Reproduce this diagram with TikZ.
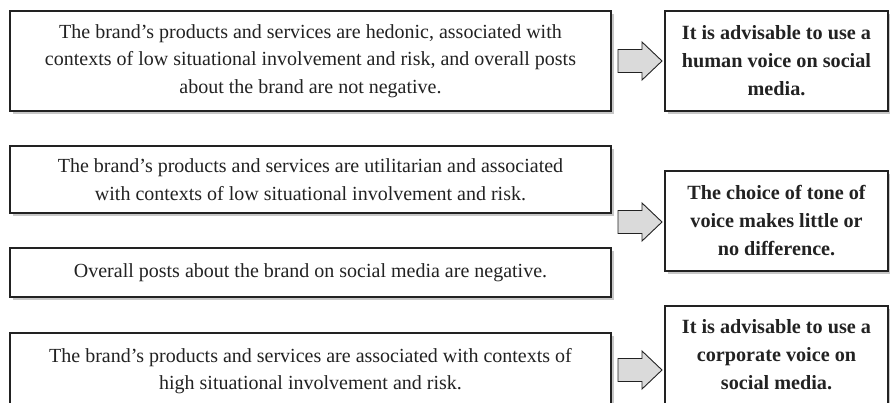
\documentclass[tikz,border=0pt]{standalone}
\usepackage{fontspec}
\setmainfont{Liberation Serif}
\usetikzlibrary{calc,shadows}
\definecolor{inkgray}{HTML}{222222}
\definecolor{arrowfill}{HTML}{DADADA}
\begin{document}
\begin{tikzpicture}[x=1pt,y=-1pt,
  every node/.style={inner sep=0pt, outer sep=0pt},
  condbox/.style={draw=inkgray, line width=1.1pt, fill=white, text=inkgray,
    minimum width=601pt, align=center,
    font=\fontsize{20}{27.5}\selectfont,
    drop shadow={shadow xshift=2.5pt, shadow yshift=-3pt, fill=black!40, opacity=0.55}},
  advicebox/.style={draw=inkgray, line width=1.1pt, fill=white, text=inkgray,
    minimum width=223pt, align=center,
    font=\fontsize{20.2}{28}\selectfont\bfseries,
    drop shadow={shadow xshift=2.5pt, shadow yshift=-3pt, fill=black!40, opacity=0.55}},
  pics/fatarrow/.style={code={
    \draw[draw=inkgray, line width=0.9pt, fill=arrowfill, line join=miter]
      (0,0) -- (-20,-19) -- (-20,-11.5) -- (-44,-11.5) -- (-44,11.5)
      -- (-20,11.5) -- (-20,19) -- cycle;}}
]
\useasboundingbox (0,0) rectangle (890,402);
\clip (0,0) rectangle (890,402);

% condition boxes on the left
\node[condbox, minimum height=100pt] (c1) at (310.5,61)
  {The brand’s products and services are hedonic, associated with\\
   contexts of low situational involvement and risk, and overall posts\\
   about the brand are not negative.};
\node[condbox, minimum height=67pt] (c2) at (310.5,179.5)
  {The brand’s products and services are utilitarian and associated\\
   with contexts of low situational involvement and risk.};
\node[condbox, minimum height=49pt] (c3) at (310.5,272.5)
  {Overall posts about the brand on social media are negative.};
\node[condbox, minimum height=76pt] (c4) at (310.5,371)
  {The brand’s products and services are associated with contexts of\\
   high situational involvement and risk.};

% recommendation boxes on the right
\node[advicebox, minimum height=100pt] (r1) at (776.5,61)
  {It is advisable to use a\\ human voice on social\\ media.};
\node[advicebox, minimum height=100pt] (r2) at (776.5,221)
  {The choice of tone of\\ voice makes little or\\ no difference.};
\node[advicebox, minimum height=98pt] (r3) at (776.5,355)
  {It is advisable to use a\\ corporate voice on\\ social media.};

% block arrows from conditions to recommendations
\coordinate (t1) at ($(r1.west)+(-3,0)$);
\coordinate (t2) at ($(r2.west)+(-3,1)$);
\coordinate (t3) at ($(r3.west |- c4.east)+(-3,-1)$);
\pic at (t1) {fatarrow};
\pic at (t2) {fatarrow};
\pic at (t3) {fatarrow};
\end{tikzpicture}
\end{document}
